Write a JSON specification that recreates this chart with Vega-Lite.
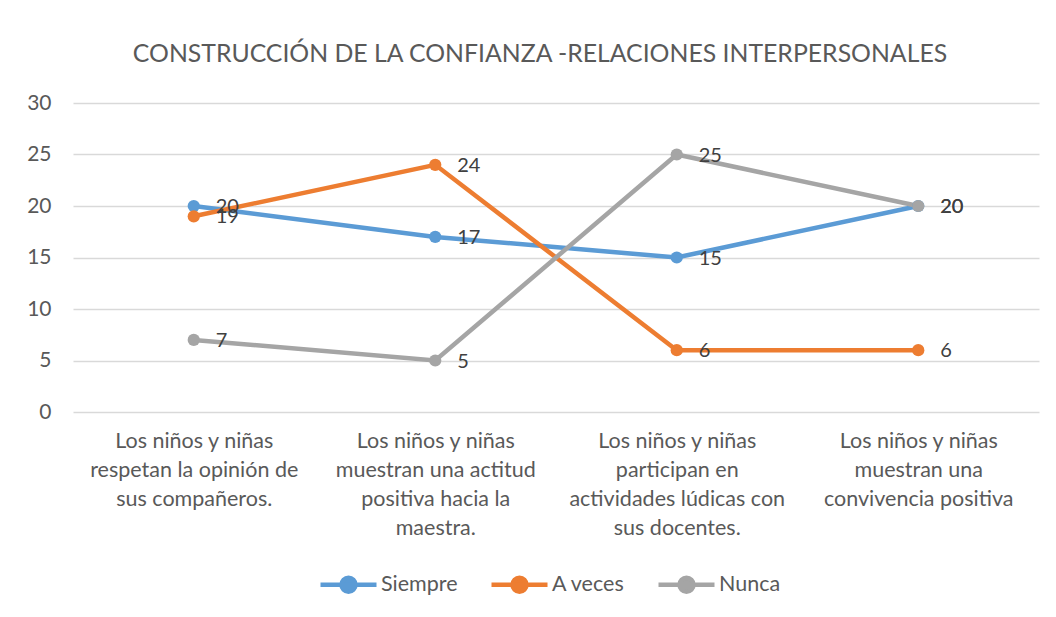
{
  "$schema": "https://vega.github.io/schema/vega-lite/v6.json",
  "autosize": "none",
  "width": 966,
  "height": 309,
  "padding": {"left": 73, "top": 103, "right": 17, "bottom": 205},
  "background": "white",
  "config": {
    "font": "Lato",
    "view": {"stroke": null},
    "axis": {"labelFont": "Lato", "labelColor": "#595959", "labelFontSize": 20, "gridColor": "#D9D9D9", "gridWidth": 1.3, "domain": false, "ticks": false, "title": null}
  },
  "title": {
    "text": "CONSTRUCCIÓN DE LA CONFIANZA -RELACIONES INTERPERSONALES",
    "font": "Lato", "fontSize": 24.8, "fontWeight": "normal", "color": "#595959",
    "anchor": "middle", "dx": -16, "offset": 25
  },
  "data": {
    "values": [
      {"cat": "Los niños y niñas|respetan la opinión de|sus compañeros.", "serie": "Siempre", "value": 20},
      {"cat": "Los niños y niñas|muestran una actitud|positiva hacia la|maestra.", "serie": "Siempre", "value": 17},
      {"cat": "Los niños y niñas|participan en|actividades lúdicas con|sus docentes.", "serie": "Siempre", "value": 15},
      {"cat": "Los niños y niñas|muestran una|convivencia positiva", "serie": "Siempre", "value": 20},
      {"cat": "Los niños y niñas|respetan la opinión de|sus compañeros.", "serie": "A veces", "value": 19},
      {"cat": "Los niños y niñas|muestran una actitud|positiva hacia la|maestra.", "serie": "A veces", "value": 24},
      {"cat": "Los niños y niñas|participan en|actividades lúdicas con|sus docentes.", "serie": "A veces", "value": 6},
      {"cat": "Los niños y niñas|muestran una|convivencia positiva", "serie": "A veces", "value": 6},
      {"cat": "Los niños y niñas|respetan la opinión de|sus compañeros.", "serie": "Nunca", "value": 7},
      {"cat": "Los niños y niñas|muestran una actitud|positiva hacia la|maestra.", "serie": "Nunca", "value": 5},
      {"cat": "Los niños y niñas|participan en|actividades lúdicas con|sus docentes.", "serie": "Nunca", "value": 25},
      {"cat": "Los niños y niñas|muestran una|convivencia positiva", "serie": "Nunca", "value": 20}
    ]
  },
  "encoding": {
    "x": {
      "field": "cat", "type": "ordinal", "sort": null,
      "scale": {"type": "point", "padding": 0.5},
      "axis": {"labelAngle": 0, "labelExpr": "split(datum.label, '|')", "labelLineHeight": 29, "labelBaseline": "top", "labelPadding": 18, "grid": false, "labelFontSize": 21.5, "labelLimit": 300}
    },
    "y": {
      "field": "value", "type": "quantitative",
      "scale": {"domain": [0, 30]},
      "axis": {"values": [0, 5, 10, 15, 20, 25, 30], "grid": true, "labelPadding": 22, "labelFontSize": 21}
    },
    "color": {"field": "serie", "type": "nominal", "sort": ["Siempre", "A veces", "Nunca"],
      "scale": {"domain": ["Siempre", "A veces", "Nunca"], "range": ["#5B9BD5", "#ED7D31", "#A5A5A5"]},
      "legend": {
        "title": null, "orient": "none", "direction": "horizontal",
        "legendX": 245, "legendY": 451,
        "symbolType": "M-1,0H1M-0.25,0A0.25,0.25 0 1,0 0.25,0A0.25,0.25 0 1,0 -0.25,0Z",
        "symbolSize": 3136, "symbolStrokeWidth": 4, "symbolOpacity": 1,
        "labelFont": "Lato", "labelFontSize": 21.5, "labelColor": "#595959", "labelOffset": 2,
        "columnPadding": 24,
        "encode": {"symbols": {"update": {"stroke": {"scale": "color", "field": "value"}, "fill": {"scale": "color", "field": "value"}, "strokeWidth": {"value": 4.5}, "opacity": {"value": 1}}}}
      }}
  },
  "layer": [
    {
      "mark": {"type": "line", "strokeWidth": 4.5, "strokeCap": "round"}
    },
    {
      "mark": {"type": "point", "filled": true, "size": 150, "opacity": 1}
    },
    {
      "mark": {"type": "text", "align": "left", "baseline": "middle", "dx": 22, "dy": 1, "fontSize": 20, "font": "Lato", "color": "#404040"},
      "encoding": {
        "text": {"field": "value", "type": "quantitative"},
        "color": {"value": "#404040"},
        "detail": {"field": "serie"}
      }
    }
  ]
}
